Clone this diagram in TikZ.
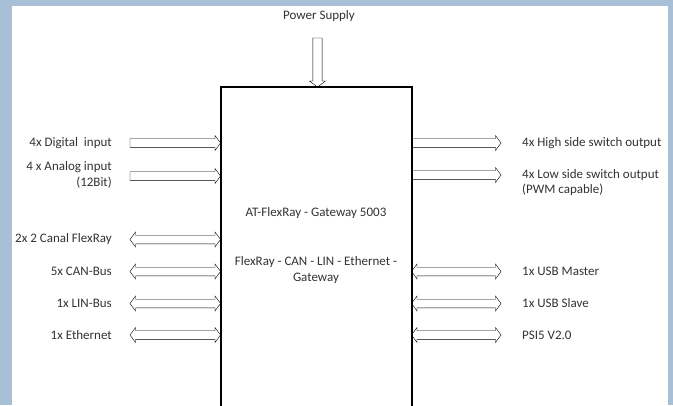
\documentclass[tikz,border=0pt]{standalone}
\usepackage{fontspec}
\setmainfont{Carlito}
\usetikzlibrary{
  arrows.meta,
  positioning,
  calc,
}
\definecolor{framebg}{HTML}{A8BFD6}
\tikzset{
  feed/.style={draw, fill=white, line width=1.5pt, line join=round, to path={
      let \p1=(\tikztostart), \p2=(\tikztotarget) in
      (\x1,\y1+4.3pt) -- (\x2-5.5pt,\y1+4.3pt) -- (\x2-5.5pt,\y1+7.5pt)
      -- (\x2,\y1) -- (\x2-5.5pt,\y1-7.5pt) -- (\x2-5.5pt,\y1-4.3pt)
      -- (\x1,\y1-4.3pt) -- cycle}},
  bus/.style={draw, fill=white, line width=1.5pt, line join=round, to path={
      let \p1=(\tikztostart), \p2=(\tikztotarget) in
      (\x1,\y1) -- (\x1+5.5pt,\y1+7.5pt) -- (\x1+5.5pt,\y1+4.3pt)
      -- (\x2-5.5pt,\y1+4.3pt) -- (\x2-5.5pt,\y1+7.5pt) -- (\x2,\y1)
      -- (\x2-5.5pt,\y1-7.5pt) -- (\x2-5.5pt,\y1-4.3pt)
      -- (\x1+5.5pt,\y1-4.3pt) -- (\x1+5.5pt,\y1-7.5pt) -- cycle}},
  supply/.style={draw, fill=white, line width=1.5pt, line join=round, to path={
      let \p1=(\tikztostart), \p2=(\tikztotarget) in
      (\x1-4.6pt,\y1) -- (\x1+4.6pt,\y1) -- (\x1+4.6pt,\y2+6pt)
      -- (\x1+8pt,\y2+6pt) -- (\x1,\y2) -- (\x1-8pt,\y2+6pt)
      -- (\x1-4.6pt,\y2+6pt) -- cycle}},
}

\begin{document}
\begin{tikzpicture}[x=1pt, y=-1pt,
        every node/.style={inner sep=1pt, text=black!80},
      ]
      \fontsize{13}{15.5}\selectfont
      \fill[framebg] (0,0) rectangle (673,405);
      \fill[white] (12,6) rectangle (668,405);
      \clip (0,0) rectangle (673,405);

      \node (gw) [draw, line width=2pt, minimum width=191pt,
        minimum height=340pt, outer sep=0pt, anchor=north] at (316,87) {};
      \node (title) at (316,213) {AT-FlexRay - Gateway 5003};
      \node (sub) [align=center] at (316,270) {
        FlexRay - CAN - LIN - Ethernet -\\Gateway
      };

      % power
      \node (pwr) at (319,16) {Power Supply};
      \coordinate (pin) at (317.5,38);
      \draw (pin) to[supply] (pin |- gw.north);

      % inputs, left
      \coordinate (din) at (130,143);
      \node (dinl) [anchor=east] at (113,143) {4x Digital\ \ input};
      \draw (din) to[feed] (din -| gw.west);
      \coordinate (ain) at (130,176);
      \node (ainl) [anchor=east, align=right] at (113,175) {
        4 x Analog input\\(12Bit)
      };
      \draw (ain) to[feed] (ain -| gw.west);

      % buses, left
      \coordinate (fr) at (130,239.5);
      \node (frl) [anchor=east] at (113,239) {2x 2 Canal FlexRay};
      \draw (fr) to[bus] (fr -| gw.west);
      \coordinate (can) at (130,271.5);
      \node (canl) [anchor=east] at (113,271) {5x CAN-Bus};
      \draw (can) to[bus] (can -| gw.west);
      \coordinate (lin) at (130,303.5);
      \node (linl) [anchor=east] at (113,303) {1x LIN-Bus};
      \draw (lin) to[bus] (lin -| gw.west);
      \coordinate (eth) at (130,335);
      \node (ethl) [anchor=east] at (113,335) {1x Ethernet};
      \draw (eth) to[bus] (eth -| gw.west);

      % outputs, right
      \coordinate (hs) at (501,143);
      \node (hsl) [anchor=west] at (521,143) {4x High side switch output};
      \draw (hs -| gw.east) to[feed] (hs);
      \coordinate (ls) at (501,175);
      \node (lsl) [anchor=west, align=left] at (521,182.5) {
        4x Low side switch output\\(PWM capable)
      };
      \draw (ls -| gw.east) to[feed] (ls);

      % buses, right
      \coordinate (usbm) at (501,271.5);
      \node (usbml) [anchor=west] at (521,271) {1x USB Master};
      \draw (usbm -| gw.east) to[bus] (usbm);
      \coordinate (usbs) at (501,303.5);
      \node (usbsl) [anchor=west] at (521,303) {1x USB Slave};
      \draw (usbs -| gw.east) to[bus] (usbs);
      \coordinate (psi) at (501,335);
      \node (psil) [anchor=west] at (521,335) {PSI5 V2.0};
      \draw (psi -| gw.east) to[bus] (psi);
    \end{tikzpicture}
\end{document}
